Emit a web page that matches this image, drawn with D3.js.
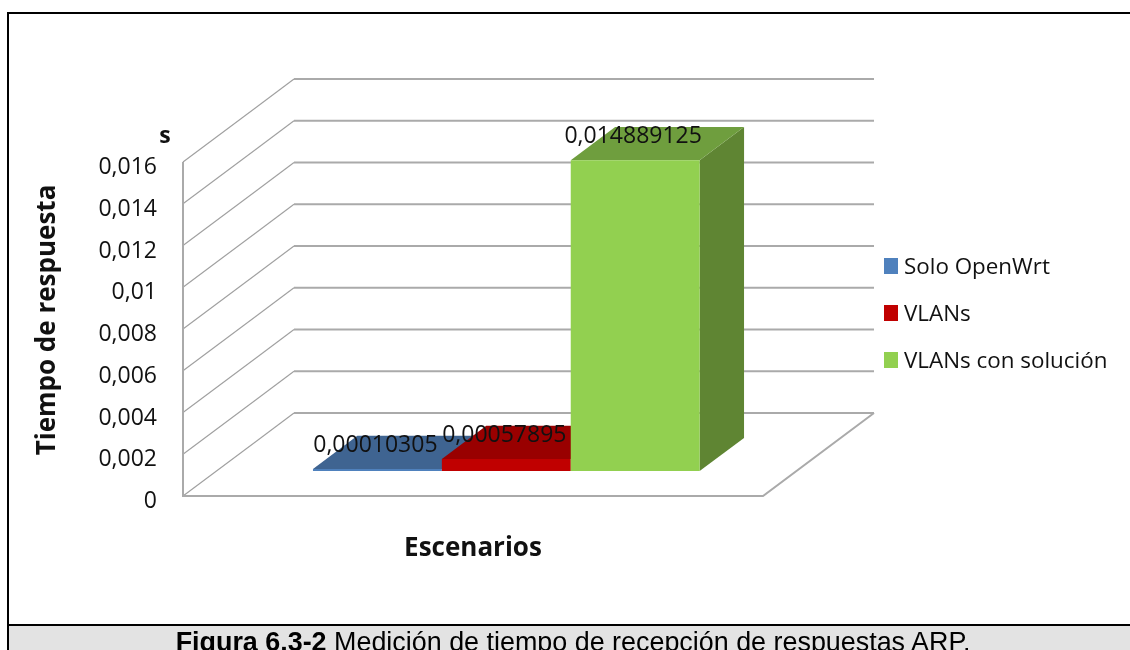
<!DOCTYPE html>
<html>
<head>
<meta charset="utf-8">
<script src="https://cdn.jsdelivr.net/npm/d3@7"></script>
<style>
  html, body { margin: 0; padding: 0; background: #fff; overflow: hidden; }
  svg { display: block; }
  .label { font-family: "Open Sans", sans-serif; font-size: 23px; fill: #111; filter: blur(0.4px); }
  .legend-label { font-family: "Open Sans", sans-serif; font-size: 22.4px; fill: #111; filter: blur(0.4px); }
  .title { font-family: "Open Sans", sans-serif; font-size: 26px; font-weight: 700; fill: #111; filter: blur(0.4px); }
  .caption { font-family: "Liberation Sans", Arial, sans-serif; font-size: 26.9px; fill: #000; filter: blur(0.3px); }
  .soft { filter: blur(0.5px); }
</style>
</head>
<body>
<div id="chart"></div>
<script>
// Values
const seriesNames = ['Solo OpenWrt', 'VLANs', 'VLANs con solución'];
const seriesValues = [0.00010305, 0.00057895, 0.014889125];
const valueLabels = ['0,00010305', '0,00057895', '0,014889125'];
const yTicks = [0, 0.002, 0.004, 0.006, 0.008, 0.01, 0.012, 0.014, 0.016];
const frontColors = ['#4f81bd', '#c00000', '#92d050'];
const topColors = ['#3f6491', '#990000', '#6f9e3e'];
const sideColors = ['#3a5c86', '#800000', '#5f8533'];

const width = 1130;
const height = 650;

const svg = d3.select('#chart')
  .append('svg')
  .attr('width', width)
  .attr('height', height);

// Scales for the front plane of the 3D box
const x = d3.scaleBand()
  .domain(seriesNames)
  .range([183, 763])
  .paddingInner(0)
  .paddingOuter(0.75);

const y = d3.scaleLinear()
  .domain([0, 0.016])
  .range([496, 162]);

// Depth: 0 is the front of the box, 1 the back wall
const depthX = d3.scaleLinear().domain([0, 1]).range([0, 111]);
const depthY = d3.scaleLinear().domain([0, 1]).range([0, -83]);
const pt = (px, value, z) => [px + depthX(z), y(value) + depthY(z)];
const path = pts => d3.line()(pts) + 'Z';

const barZ0 = 0.3;
const barZ1 = 0.7;

// Gridlines on the back wall and the left wall
const grid = svg.append('g').attr('class', 'soft').attr('fill', 'none');
yTicks.forEach(t => {
  grid.append('path')
    .attr('d', d3.line()([pt(183, t, 0), pt(183, t, 1)]))
    .attr('stroke', '#a0a0a0')
    .attr('stroke-width', 1.2);
  grid.append('path')
    .attr('d', d3.line()([pt(183, t, 1), pt(763, t, 1)]))
    .attr('stroke', '#aaa')
    .attr('stroke-width', 2);
});

// Left edge and floor
grid.append('path')
  .attr('d', d3.line()([pt(183, 0.016, 0), pt(183, 0, 0), pt(763, 0, 0), pt(763, 0, 1)]))
  .attr('stroke', '#aaa')
  .attr('stroke-width', 2);

// Bars
const bars = svg.append('g')
  .attr('class', 'soft')
  .selectAll('g')
  .data(seriesNames)
  .join('g');

bars.each(function(name, i) {
  const g = d3.select(this);
  const v = seriesValues[i];
  const x0 = x(name);
  const x1 = x0 + x.bandwidth();
  g.append('path')
    .attr('d', path([pt(x1, 0, barZ0), pt(x1, 0, barZ1), pt(x1, v, barZ1), pt(x1, v, barZ0)]))
    .attr('fill', sideColors[i]);
  g.append('path')
    .attr('d', path([pt(x0, v, barZ0), pt(x1, v, barZ0), pt(x1, v, barZ1), pt(x0, v, barZ1)]))
    .attr('fill', topColors[i]);
  g.append('path')
    .attr('d', path([pt(x0, 0, barZ0), pt(x1, 0, barZ0), pt(x1, v, barZ0), pt(x0, v, barZ0)]))
    .attr('fill', frontColors[i]);
});

// Value labels on top of the bars
svg.append('g')
  .selectAll('text')
  .data(seriesNames)
  .join('text')
  .attr('class', 'label')
  .attr('x', (d, i) => pt(x(d) + x.bandwidth() / 2, seriesValues[i], barZ0)[0] - 2)
  .attr('y', (d, i) => pt(0, seriesValues[i], barZ0)[1] - 23)
  .attr('text-anchor', 'middle')
  .attr('dominant-baseline', 'middle')
  .text((d, i) => valueLabels[i]);

// Y axis
const yAxis = d3.axisLeft(y)
  .tickValues(yTicks)
  .tickSize(0)
  .tickPadding(26)
  .tickFormat(d => String(d).replace('.', ','));

const yAxisG = svg.append('g')
  .attr('transform', 'translate(183,0)')
  .call(yAxis);
yAxisG.select('.domain').remove();
yAxisG.selectAll('text')
  .attr('class', 'label')
  .attr('dy', '0.5em')
  .style('font-size', '23px')
  .style('font-family', '"Open Sans", sans-serif');

// Axis titles
svg.append('text')
  .attr('class', 'title')
  .attr('transform', 'translate(48,320) rotate(-90)')
  .attr('text-anchor', 'middle')
  .attr('dominant-baseline', 'middle')
  .text('Tiempo de respuesta');

svg.append('text')
  .attr('class', 'title')
  .attr('x', 165)
  .attr('y', 143)
  .attr('text-anchor', 'middle')
  .style('font-size', '23px')
  .text('s');

svg.append('text')
  .attr('class', 'title')
  .attr('x', 473)
  .attr('y', 549)
  .attr('text-anchor', 'middle')
  .attr('dominant-baseline', 'middle')
  .text('Escenarios');

// Legend
const legendY = d3.scalePoint()
  .domain(seriesNames)
  .range([266, 360]);

const legend = svg.append('g')
  .selectAll('g')
  .data(seriesNames)
  .join('g')
  .attr('transform', d => `translate(884,${legendY(d)})`);

legend.append('rect')
  .attr('y', -8)
  .attr('width', 14)
  .attr('height', 16)
  .attr('fill', (d, i) => frontColors[i]);

legend.append('text')
  .attr('class', 'legend-label')
  .attr('x', 20)
  .attr('y', 2)
  .attr('dominant-baseline', 'middle')
  .text(d => d);

// Page frame and caption strip
const frame = svg.append('g');
frame.append('rect')
  .attr('x', 8).attr('y', 625)
  .attr('width', width - 8).attr('height', 25)
  .attr('fill', '#e3e3e3');
frame.append('path')
  .attr('d', d3.line()([[width, 13], [8, 13], [8, height]]))
  .attr('fill', 'none').attr('stroke', '#000').attr('stroke-width', 2);
frame.append('path')
  .attr('d', d3.line()([[8, 625], [width, 625]]))
  .attr('fill', 'none').attr('stroke', '#000').attr('stroke-width', 2);

// Caption is cut by the bottom edge in the reference too
const caption = svg.append('text')
  .attr('class', 'caption')
  .attr('x', 573)
  .attr('y', 651)
  .attr('text-anchor', 'middle');
caption.append('tspan').attr('font-weight', 700).text('Figura 6.3-2');
caption.append('tspan').text(' Medición de tiempo de recepción de respuestas ARP.');
</script>
</body>
</html>
